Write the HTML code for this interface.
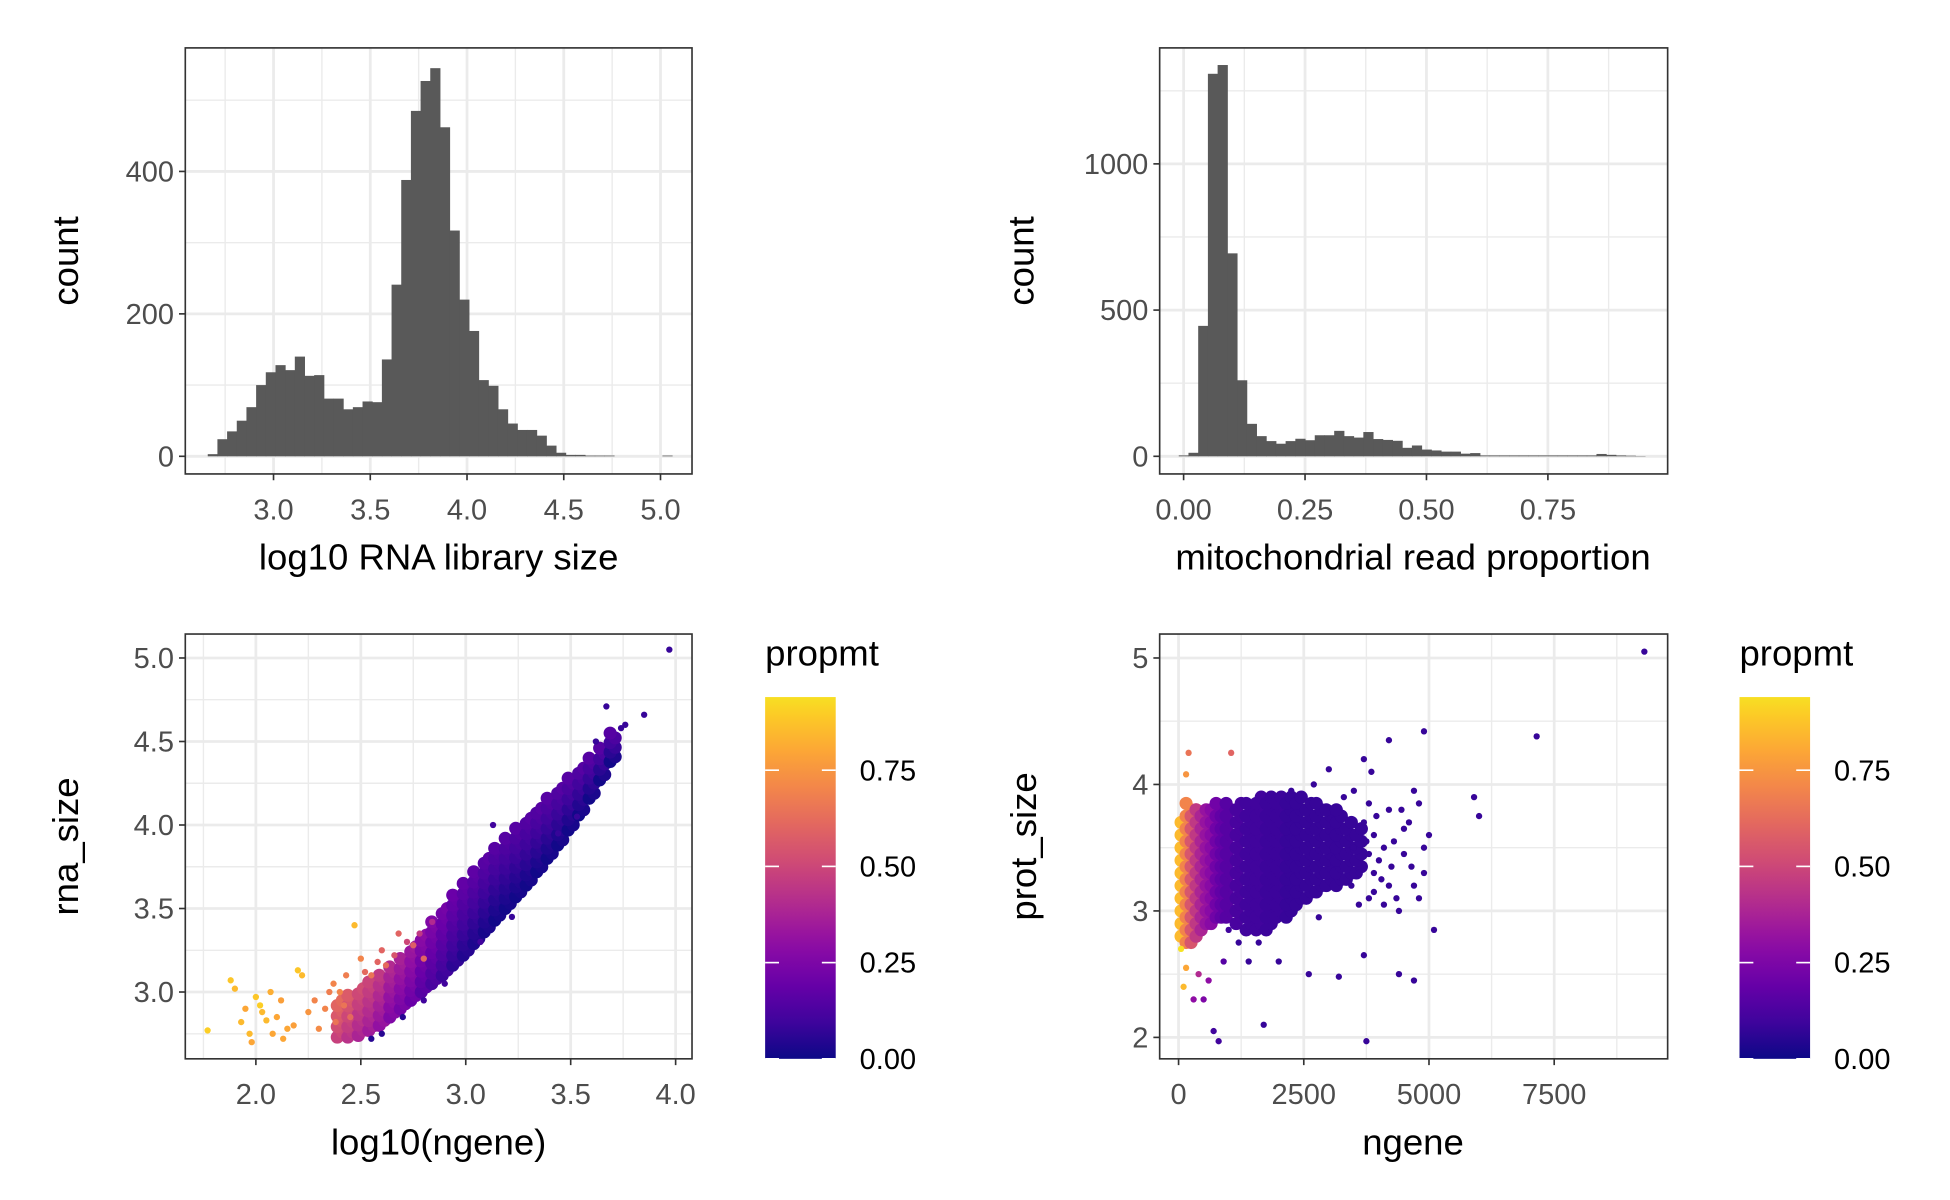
<!DOCTYPE html>
<html><head><meta charset="utf-8"><style>
html,body{margin:0;padding:0;background:#fff}
svg{display:block}
text{font-family:"Liberation Sans",Arial,sans-serif}
.tl{fill:#4d4d4d;font-size:23px}
.at{fill:#000;font-size:29px}
</style></head><body>
<svg id="fig" width="1950" height="1200" viewBox="0 0 1547 952" preserveAspectRatio="none" xmlns="http://www.w3.org/2000/svg">
<rect x="0" y="0" width="1547" height="952" fill="#fff"/>
</svg>
<script>
// ---- data ----
const libStart = 2.66, libWidth = 0.05;
const libCounts = [3,24,35,50,69,100,118,128,121,140,113,114,81,81,66,69,77,76,136,241,388,485,527,545,462,317,220,176,107,99,66,46,37,37,29,15,5,2,2,1,1,1,0,0,0,0,0,1];
const mitoStart = -0.01, mitoWidth = 0.02;
const mitoCounts = [3,12,446,1308,1338,694,260,111,69,52,43,52,60,55,72,72,87,69,64,83,59,56,53,29,37,23,20,16,16,9,11,3,3,3,3,3,3,3,3,3,3,3,3,8,5,3,2,1];
const p1XTicks = [3.0,3.5,4.0,4.5,5.0], p1XLabels = ["3.0","3.5","4.0","4.5","5.0"];
const p1YTicks = [0,200,400], p1YLabels = ["0","200","400"];
const p2XTicks = [0,0.25,0.5,0.75], p2XLabels = ["0.00","0.25","0.50","0.75"];
const p2YTicks = [0,500,1000], p2YLabels = ["0","500","1000"];
const p3XTicks = [2.0,2.5,3.0,3.5,4.0], p3XLabels = ["2.0","2.5","3.0","3.5","4.0"];
const p3YTicks = [3.0,3.5,4.0,4.5,5.0], p3YLabels = ["3.0","3.5","4.0","4.5","5.0"];
const p4XTicks = [0,2500,5000,7500], p4XLabels = ["0","2500","5000","7500"];
const p4YTicks = [2,3,4,5], p4YLabels = ["2","3","4","5"];
// panel 3 dense band (log10 ngene column, rna_size low/high, propmt)
const bandX  = [2.40,2.45,2.50,2.55,2.60,2.65,2.70,2.75,2.80,2.85,2.90,2.95,3.00,3.05,3.10,3.15,3.20,3.25,3.30,3.35,3.40,3.45,3.50,3.55,3.60,3.65,3.70];
const bandLo = [2.73,2.73,2.74,2.77,2.80,2.85,2.90,2.95,3.00,3.05,3.10,3.16,3.22,3.29,3.36,3.43,3.50,3.57,3.64,3.72,3.80,3.88,3.97,4.06,4.16,4.27,4.38];
const bandHi = [2.95,2.98,3.02,3.06,3.10,3.15,3.20,3.27,3.34,3.42,3.50,3.58,3.65,3.72,3.80,3.86,3.92,3.98,4.04,4.10,4.16,4.22,4.28,4.34,4.40,4.46,4.55];
const bandC  = [0.55,0.5,0.45,0.42,0.38,0.33,0.3,0.27,0.22,0.19,0.16,0.13,0.11,0.1,0.09,0.08,0.08,0.08,0.08,0.08,0.08,0.08,0.08,0.08,0.08,0.08,0.08];
// panel 3 scattered points
const s3X = [1.77,1.88,1.90,1.93,1.95,1.97,2.00,2.02,2.05,2.07,2.10,2.12,2.15,2.20,2.22,1.98,2.08,2.25,2.18,2.30,2.28,2.35,2.38,2.42,2.40,2.45,2.47,2.50,2.55,2.60,2.62,2.68,2.75,2.80,3.97,3.67,3.85,3.13,2.55,2.60,2.70,2.80,2.90,2.33,2.03,2.13,2.37,2.43,2.52,2.58,2.66,2.72,2.78,2.84,3.62,3.74,3.76,3.44,3.53,3.07,3.22];
const s3Y = [2.77,3.07,3.02,2.82,2.90,2.75,2.97,2.92,2.83,3.00,2.85,2.95,2.78,3.13,3.10,2.70,2.75,2.88,2.80,2.78,2.95,3.00,2.82,2.92,3.00,2.85,3.40,3.20,3.10,3.25,3.16,3.35,3.28,3.20,5.05,4.71,4.66,4.00,2.72,2.75,2.85,2.95,3.05,2.90,2.88,2.72,3.05,3.10,3.12,3.18,3.22,3.30,3.35,3.42,4.50,4.58,4.60,3.95,4.05,3.30,3.45];
const s3C = [0.9,0.88,0.85,0.85,0.8,0.85,0.88,0.9,0.85,0.82,0.8,0.78,0.8,0.88,0.85,0.8,0.8,0.75,0.78,0.72,0.7,0.68,0.65,0.65,0.7,0.62,0.85,0.7,0.65,0.6,0.62,0.6,0.58,0.6,0.08,0.08,0.08,0.1,0.05,0.05,0.05,0.1,0.1,0.7,0.85,0.8,0.7,0.68,0.62,0.6,0.55,0.5,0.45,0.4,0.08,0.08,0.08,0.08,0.08,0.1,0.08];
// panel 4 dense blob (ngene column, prot_size low/high, propmt)
const blobX  = [100,200,300,400,500,600,700,800,900,1000,1200,1400,1600,1800,2000,2200,2400,2600,2800,3000,3200,3400,3600];
const blobLo = [2.8,2.75,2.75,2.8,2.85,2.9,2.9,2.95,2.95,2.95,2.9,2.85,2.85,2.85,2.95,2.95,3.05,3.1,3.15,3.2,3.2,3.25,3.3];
const blobHi = [3.7,3.85,3.8,3.8,3.75,3.8,3.8,3.85,3.8,3.85,3.85,3.85,3.9,3.9,3.9,3.9,3.9,3.85,3.85,3.8,3.8,3.7,3.65];
const blobC  = [0.85,0.7,0.55,0.45,0.38,0.32,0.28,0.22,0.18,0.15,0.12,0.1,0.1,0.09,0.09,0.08,0.08,0.08,0.08,0.08,0.08,0.08,0.08];
// panel 4 scattered points
const s4X = [9300,7150,4900,4200,3700,3000,3850,1050,200,150,5900,6000,4800,2250,3300,4200,4500,5000,4500,4900,4700,4200,4400,3800,5100,3700,4400,4700,2600,2000,1400,1200,3200,1700,3750,700,800,600,400,300,100,150,50,900,500,3500,2700,4100,4800,3900,3500,3700,3900,4000,3600,4300,4600,3800,4100,3600,4900,4700,3450,3900,4250,3800,4050,4350,4650,3950,3750,4450,2800,1600,1000];
const s4Y = [5.05,4.38,4.42,4.35,4.20,4.12,4.10,4.25,4.25,4.08,3.90,3.75,3.85,3.95,3.90,3.80,3.65,3.60,3.45,3.30,3.20,3.20,3.00,3.10,2.85,2.65,2.50,2.45,2.50,2.60,2.60,2.75,2.48,2.10,1.97,2.05,1.97,2.45,2.50,2.30,2.40,2.55,2.70,2.60,2.30,3.95,4.00,3.50,3.10,3.30,3.50,3.70,3.60,3.40,3.30,3.55,3.70,3.85,3.05,3.05,3.50,3.95,3.20,3.15,3.35,3.45,3.25,3.10,3.35,3.75,3.55,3.80,2.95,2.75,2.85];
const s4C = [0.08,0.08,0.08,0.08,0.08,0.08,0.08,0.6,0.65,0.75,0.08,0.08,0.08,0.08,0.08,0.08,0.08,0.08,0.08,0.08,0.08,0.08,0.08,0.08,0.08,0.08,0.08,0.08,0.08,0.08,0.08,0.08,0.08,0.08,0.08,0.1,0.1,0.3,0.4,0.3,0.85,0.8,0.95,0.15,0.25,0.08,0.08,0.08,0.08,0.08,0.08,0.08,0.08,0.08,0.08,0.08,0.08,0.08,0.08,0.08,0.08,0.08,0.08,0.08,0.08,0.08,0.08,0.08,0.08,0.08,0.08,0.08,0.08,0.08,0.1];
const legTicks = [0,0.25,0.5,0.75], legLabels = ["0.00","0.25","0.50","0.75"];
const legMax = 0.94;

// ---- helpers ----
const NS = "http://www.w3.org/2000/svg";
const svg = document.getElementById("fig");
function mk(tag, attrs, parent){ const e=document.createElementNS(NS,tag); for(const k in attrs) e.setAttribute(k,attrs[k]); (parent||svg).appendChild(e); return e; }
const stops = [[0,"#0d0887"],[0.1,"#41049d"],[0.2,"#6a00a8"],[0.3,"#8f0da4"],[0.4,"#b12a90"],[0.5,"#cc4778"],[0.6,"#e16462"],[0.7,"#f2844b"],[0.8,"#fca636"],[0.9,"#fcce25"],[1,"#f0f921"]];
function hex(h){return [parseInt(h.slice(1,3),16),parseInt(h.slice(3,5),16),parseInt(h.slice(5,7),16)];}
function plasma(t){ t=Math.max(0,Math.min(1,t)); for(let i=0;i<stops.length-1;i++){ if(t<=stops[i+1][0]){ const a=hex(stops[i][1]),b=hex(stops[i+1][1]); const f=(t-stops[i][0])/(stops[i+1][0]-stops[i][0]); return "rgb("+a.map((v,j)=>Math.round(v+(b[j]-v)*f)).join(",")+")"; } } return stops[10][1]; }
function scale(d0,d1,r0,r1){ return v=>r0+(v-d0)/(d1-d0)*(r1-r0); }

function panel(name, box, xs, ys, xMaj, xMin, yMaj, yMin, xLab, yLab, xTitle, yTitle, xTitleX, yTitleX){
  const g = mk("g",{});
  
  
  mk("rect",{x:box.l,y:box.t,width:box.r-box.l,height:box.b-box.t,fill:"#fff"},g);
  yMin.forEach(v=>{ const l=mk("line",{x1:box.l,x2:box.r,y1:ys(v),y2:ys(v),stroke:"#ebebeb","stroke-width":1.1},g);   });
  xMin.forEach(v=>{ const l=mk("line",{y1:box.t,y2:box.b,x1:xs(v),x2:xs(v),stroke:"#ebebeb","stroke-width":1.1},g);   });
  yMaj.forEach(v=>{ const l=mk("line",{x1:box.l,x2:box.r,y1:ys(v),y2:ys(v),stroke:"#ebebeb","stroke-width":2.2},g);   });
  xMaj.forEach(v=>{ const l=mk("line",{y1:box.t,y2:box.b,x1:xs(v),x2:xs(v),stroke:"#ebebeb","stroke-width":2.2},g);   });
  const marks = mk("g",{},g);
  
  
  const fr = mk("rect",{x:box.l,y:box.t,width:box.r-box.l,height:box.b-box.t,fill:"none",stroke:"#333","stroke-width":1.3},g);
  
  
  xMaj.forEach((v,i)=>{
    const t=mk("line",{x1:xs(v),x2:xs(v),y1:box.b,y2:box.b+5,stroke:"#333","stroke-width":1.3},g);
     
    const tx=mk("text",{x:xs(v),y:box.b+36,"text-anchor":"middle",class:"tl"},g); tx.textContent=xLab[i];
     
  });
  yMaj.forEach((v,i)=>{
    const t=mk("line",{x1:box.l-5,x2:box.l,y1:ys(v),y2:ys(v),stroke:"#333","stroke-width":1.3},g);
     
    const tx=mk("text",{x:box.l-9,y:ys(v)+8,"text-anchor":"end",class:"tl"},g); tx.textContent=yLab[i];
     
  });
  const xt=mk("text",{x:xTitleX,y:box.b+76,"text-anchor":"middle",class:"at"},g); xt.textContent=xTitle;
   
  const cy=(box.t+box.b)/2;
  const yt=mk("text",{x:yTitleX,y:cy,"text-anchor":"middle",class:"at",transform:"rotate(-90 "+yTitleX+" "+cy+")"},g); yt.textContent=yTitle;
   
  return marks;
}

// ---- panel 1 ----
const b1={l:147,r:549,t:38,b:376};
const x1=scale(3.0,5.0,217,524), y1=scale(0,400,362,136);
const m1=panel("rna-library-histogram",b1,x1,y1,p1XTicks,[2.75,3.25,3.75,4.25,4.75],p1YTicks,[100,300,500],p1XLabels,p1YLabels,"log10 RNA library size","count",348,62);
libCounts.forEach((c,i)=>{ if(c<=0) return; const a=libStart+i*libWidth;
  const r=mk("rect",{x:x1(a),y:y1(c),width:x1(a+libWidth)-x1(a)+0.4,height:y1(0)-y1(c),fill:"#595959"},m1);
    });

// ---- panel 2 ----
const b2={l:920,r:1323,t:38,b:376};
const x2=scale(0,0.75,939,1228), y2=scale(0,1000,362,130);
const m2=panel("mito-proportion-histogram",b2,x2,y2,p2XTicks,[0.125,0.375,0.625,0.875],p2YTicks,[250,750,1250],p2XLabels,p2YLabels,"mitochondrial read proportion","count",1121,820);
mitoCounts.forEach((c,i)=>{ if(c<=0) return; const a=mitoStart+i*mitoWidth;
  const r=mk("rect",{x:x2(a),y:y2(c),width:x2(a+mitoWidth)-x2(a)+0.4,height:y2(0)-y2(c),fill:"#595959"},m2);
    });

// ---- panel 3 ----
const b3={l:147,r:549,t:503,b:840};
const x3=scale(2.0,4.0,203,536), y3=scale(3.0,5.0,787,522);
const m3=panel("rna-size-vs-ngene-scatter",b3,x3,y3,p3XTicks,[1.75,2.25,2.75,3.25,3.75],p3YTicks,[2.75,3.25,3.75,4.25,4.75],p3XLabels,p3YLabels,"log10(ngene)","rna_size",348,62);
bandX.forEach((x,i)=>{ const n=Math.max(2,Math.round((bandHi[i]-bandLo[i])/0.03));
  for(let k=0;k<=n;k++){ const f=k/n; const y=bandLo[i]+(bandHi[i]-bandLo[i])*f;
    const c=mk("circle",{cx:x3(x)+(k%2?2:-2),cy:y3(y),r:5.2,fill:plasma(bandC[i]-0.07+0.14*f)},m3);
      } });
s3X.forEach((x,i)=>{ const c=mk("circle",{cx:x3(x),cy:y3(s3Y[i]),r:2.5,fill:plasma(s3C[i])},m3);
    });

// ---- panel 4 ----
const b4={l:920,r:1323,t:503,b:840};
const x4=scale(0,7500,935,1233), y4=scale(2,5,823,522);
const m4=panel("prot-size-vs-ngene-scatter",b4,x4,y4,p4XTicks,[1250,3750,6250,8750],p4YTicks,[2.5,3.5,4.5],p4XLabels,p4YLabels,"ngene","prot_size",1121,822);
blobX.forEach((x,i)=>{ const n=Math.max(2,Math.round((blobHi[i]-blobLo[i])/0.05));
  for(let k=0;k<=n;k++){ const y=blobLo[i]+(blobHi[i]-blobLo[i])*k/n;
    const c=mk("circle",{cx:x4(x)+(k%2?2:-2),cy:y4(y),r:5.2,fill:plasma(blobC[i])},m4);
      } });
s4X.forEach((x,i)=>{ const c=mk("circle",{cx:x4(x),cy:y4(s4Y[i]),r:2.5,fill:plasma(s4C[i])},m4);
    });

// ---- legends ----
const defs=mk("defs",{});
const lg=mk("linearGradient",{id:"plasmaGrad",x1:0,y1:1,x2:0,y2:0},defs);
for(let i=0;i<=20;i++){ const t=i/20; mk("stop",{offset:t,"stop-color":plasma(t*legMax)},lg); }
function legend(name,lx){
  const g=mk("g",{});
   
  const top=553,bot=840; const ly=scale(0,legMax,bot,top);
  const t=mk("text",{x:lx,y:528,class:"at"},g); t.textContent="propmt";
   
  const r=mk("rect",{x:lx,y:top,width:56,height:bot-top,fill:"url(#plasmaGrad)"},g);
   
  legTicks.forEach((v,i)=>{
    mk("line",{x1:lx,x2:lx+11,y1:ly(v),y2:ly(v),stroke:"#fff","stroke-width":1.3},g);
    mk("line",{x1:lx+45,x2:lx+56,y1:ly(v),y2:ly(v),stroke:"#fff","stroke-width":1.3},g);
    const tx=mk("text",{x:lx+75,y:ly(v)+8,fill:"#000","font-size":"23px"},g); tx.textContent=legLabels[i];
     
  });
}
legend("propmt-legend-left",607);
legend("propmt-legend-right",1380);
</script>
</body></html>
